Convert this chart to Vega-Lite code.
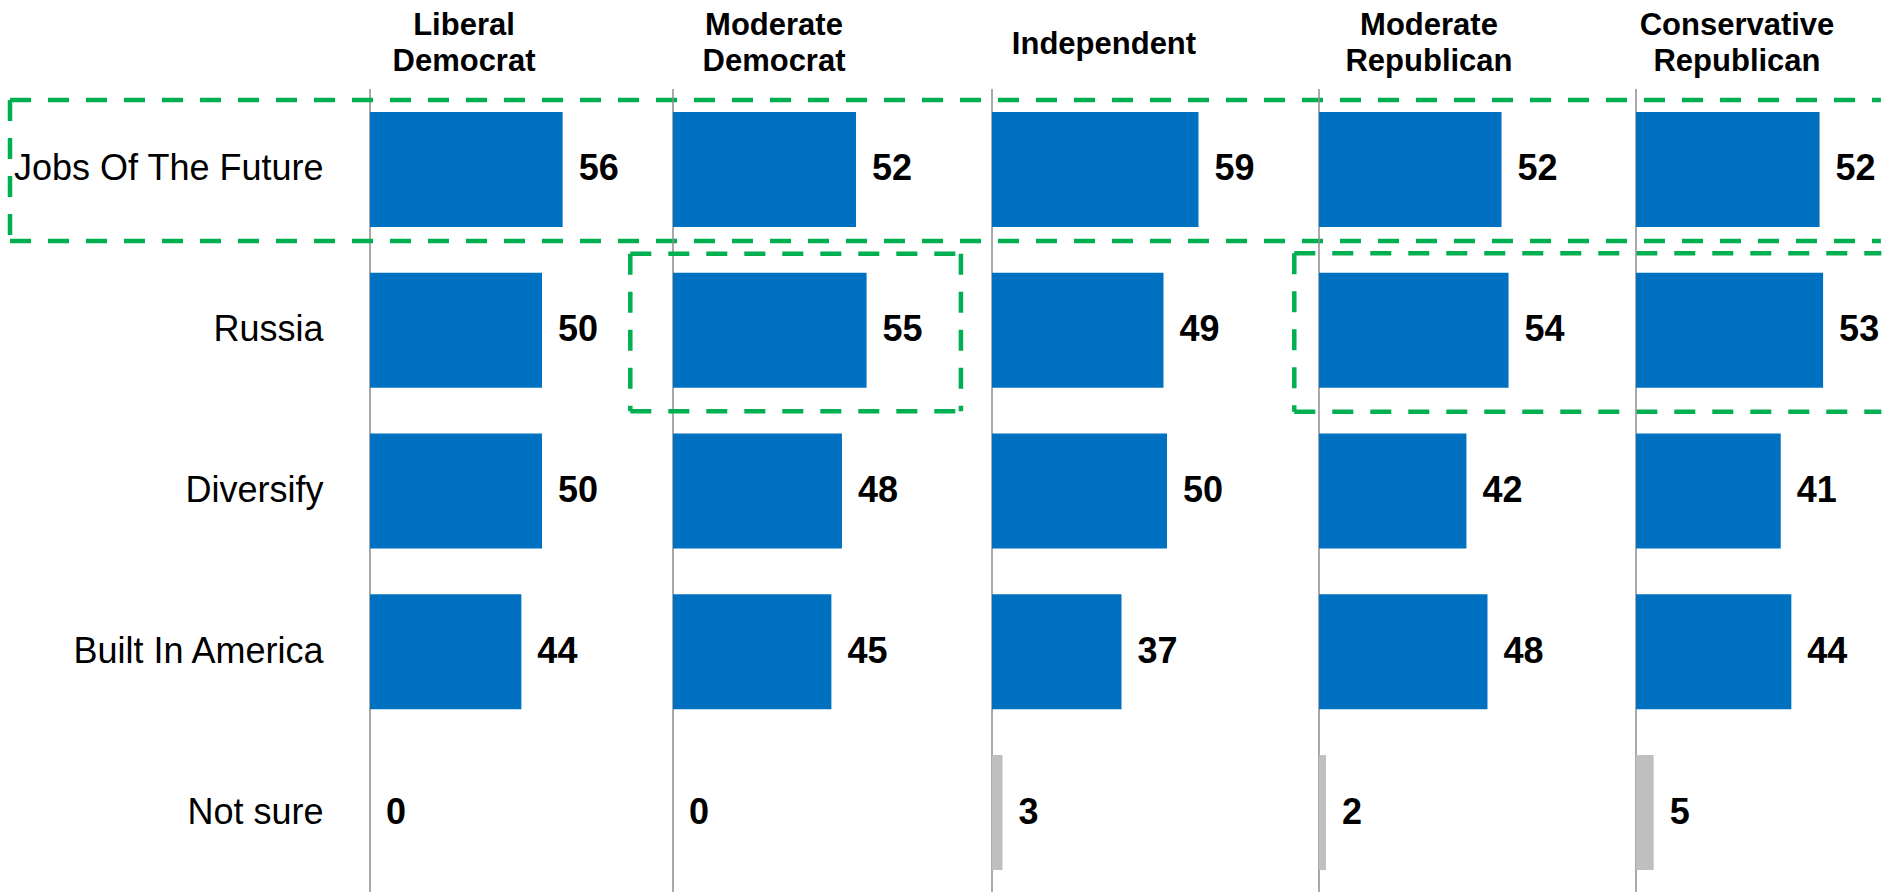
{
  "$schema": "https://vega.github.io/schema/vega-lite/v6.json",
  "padding": {"left": 7, "top": 9, "right": 0, "bottom": 0},
  "spacing": 0,
  "bounds": "flush",
  "config": {
    "view": {"stroke": null},
    "title": {"font": "Liberation Sans", "fontSize": 31, "fontWeight": "bold", "color": "#000000", "lineHeight": 36.5, "anchor": "middle", "offset": 10},
    "axis": {"labelFont": "Liberation Sans"}
  },
  "datasets": {
    "bars": [
      {"group": "Liberal Democrat", "item": "Jobs Of The Future", "value": 56},
      {"group": "Liberal Democrat", "item": "Russia", "value": 50},
      {"group": "Liberal Democrat", "item": "Diversify", "value": 50},
      {"group": "Liberal Democrat", "item": "Built In America", "value": 44},
      {"group": "Liberal Democrat", "item": "Not sure", "value": 0},
      {"group": "Moderate Democrat", "item": "Jobs Of The Future", "value": 52},
      {"group": "Moderate Democrat", "item": "Russia", "value": 55},
      {"group": "Moderate Democrat", "item": "Diversify", "value": 48},
      {"group": "Moderate Democrat", "item": "Built In America", "value": 45},
      {"group": "Moderate Democrat", "item": "Not sure", "value": 0},
      {"group": "Independent", "item": "Jobs Of The Future", "value": 59},
      {"group": "Independent", "item": "Russia", "value": 49},
      {"group": "Independent", "item": "Diversify", "value": 50},
      {"group": "Independent", "item": "Built In America", "value": 37},
      {"group": "Independent", "item": "Not sure", "value": 3},
      {"group": "Moderate Republican", "item": "Jobs Of The Future", "value": 52},
      {"group": "Moderate Republican", "item": "Russia", "value": 54},
      {"group": "Moderate Republican", "item": "Diversify", "value": 42},
      {"group": "Moderate Republican", "item": "Built In America", "value": 48},
      {"group": "Moderate Republican", "item": "Not sure", "value": 2},
      {"group": "Conservative Republican", "item": "Jobs Of The Future", "value": 52},
      {"group": "Conservative Republican", "item": "Russia", "value": 53},
      {"group": "Conservative Republican", "item": "Diversify", "value": 41},
      {"group": "Conservative Republican", "item": "Built In America", "value": 44},
      {"group": "Conservative Republican", "item": "Not sure", "value": 5}
    ],
    "boxes": [
      {"group": "Liberal Democrat", "x1": -104.65, "x2": 439.2, "y1": 0.0684, "y2": 0.0684},
      {"group": "Liberal Democrat", "x1": -104.65, "x2": 439.2, "y1": 0.945, "y2": 0.945},
      {"group": "Liberal Democrat", "x1": -104.65, "x2": -104.65, "y1": 0.0684, "y2": 0.945},
      {"group": "Moderate Democrat", "x1": -12.13, "x2": 81.8, "y1": 1.024, "y2": 1.024},
      {"group": "Moderate Democrat", "x1": -12.13, "x2": 81.8, "y1": 2.004, "y2": 2.004},
      {"group": "Moderate Democrat", "x1": -12.13, "x2": -12.13, "y1": 1.024, "y2": 2.004},
      {"group": "Moderate Democrat", "x1": 81.8, "x2": 81.8, "y1": 1.024, "y2": 2.004},
      {"group": "Moderate Republican", "x1": -7.04, "x2": 160.2, "y1": 1.022, "y2": 1.022},
      {"group": "Moderate Republican", "x1": -7.04, "x2": 160.2, "y1": 2.007, "y2": 2.007},
      {"group": "Moderate Republican", "x1": -7.04, "x2": -7.04, "y1": 1.022, "y2": 2.007}
    ]
  },
  "hconcat": [
    {
      "width": 303, "height": 804,
      "title": {"text": ["Liberal", "Democrat"], "dx": -57.5},
      "resolve": {"scale": {"y": "independent"}},
      "layer": [
        {"data": {"values": [{}]}, "mark": {"type": "rule", "color": "#8c8c8c", "strokeWidth": 1.5},
         "encoding": {"x": {"datum": 0, "type": "quantitative", "scale": {"domain": [0, 88.08], "nice": false}, "axis": null}}},
        {"data": {"name": "bars"}, "transform": [{"filter": "datum.group === 'Liberal Democrat'"}],
         "mark": {"type": "bar"},
         "encoding": {
           "y": {"field": "item", "type": "nominal", "sort": ["Jobs Of The Future", "Russia", "Diversify", "Built In America", "Not sure"], "scale": {"paddingInner": 0.285, "paddingOuter": 0.1425},
                 "axis": {"title": null, "domain": false, "ticks": false, "labelFontSize": 36, "labelColor": "#000000", "labelPadding": 47, "labelLimit": 600}},
           "x": {"field": "value", "type": "quantitative", "scale": {"domain": [0, 88.08], "nice": false}, "axis": null},
           "color": {"condition": {"test": "datum.item === 'Not sure'", "value": "#BFBFBF"}, "value": "#0070C0"}
         }},
        {"data": {"name": "bars"}, "transform": [{"filter": "datum.group === 'Liberal Democrat'"}],
         "mark": {"type": "text", "align": "left", "baseline": "middle", "dx": 16, "font": "Liberation Sans", "fontSize": 36, "fontWeight": "bold", "color": "#000000"},
         "encoding": {
           "y": {"field": "item", "type": "nominal", "sort": ["Jobs Of The Future", "Russia", "Diversify", "Built In America", "Not sure"], "scale": {"paddingInner": 0.285, "paddingOuter": 0.1425}, "axis": null},
           "x": {"field": "value", "type": "quantitative", "scale": {"domain": [0, 88.08], "nice": false}, "axis": null},
           "text": {"field": "value", "type": "quantitative"}
         }},
        {"data": {"name": "boxes"}, "transform": [{"filter": "datum.group === 'Liberal Democrat'"}],
         "mark": {"type": "rule", "color": "#00B050", "strokeWidth": 4.5, "strokeDash": [21, 17]},
         "encoding": {
           "x": {"field": "x1", "type": "quantitative", "scale": {"domain": [0, 88.08], "nice": false}, "axis": null},
           "x2": {"field": "x2"},
           "y": {"field": "y1", "type": "quantitative", "scale": {"domain": [0, 5], "nice": false, "zero": false, "reverse": true}, "axis": null},
           "y2": {"field": "y2"}
         }}
      ]
    },
    {
      "width": 319, "height": 804,
      "title": {"text": ["Moderate", "Democrat"], "dx": -58.5},
      "resolve": {"scale": {"y": "independent"}},
      "layer": [
        {"data": {"values": [{}]}, "mark": {"type": "rule", "color": "#8c8c8c", "strokeWidth": 1.5},
         "encoding": {"x": {"datum": 0, "type": "quantitative", "scale": {"domain": [0, 90.63], "nice": false}, "axis": null}}},
        {"data": {"name": "bars"}, "transform": [{"filter": "datum.group === 'Moderate Democrat'"}],
         "mark": {"type": "bar"},
         "encoding": {
           "y": {"field": "item", "type": "nominal", "sort": ["Jobs Of The Future", "Russia", "Diversify", "Built In America", "Not sure"], "scale": {"paddingInner": 0.285, "paddingOuter": 0.1425}, "axis": null},
           "x": {"field": "value", "type": "quantitative", "scale": {"domain": [0, 90.63], "nice": false}, "axis": null},
           "color": {"condition": {"test": "datum.item === 'Not sure'", "value": "#BFBFBF"}, "value": "#0070C0"}
         }},
        {"data": {"name": "bars"}, "transform": [{"filter": "datum.group === 'Moderate Democrat'"}],
         "mark": {"type": "text", "align": "left", "baseline": "middle", "dx": 16, "font": "Liberation Sans", "fontSize": 36, "fontWeight": "bold", "color": "#000000"},
         "encoding": {
           "y": {"field": "item", "type": "nominal", "sort": ["Jobs Of The Future", "Russia", "Diversify", "Built In America", "Not sure"], "scale": {"paddingInner": 0.285, "paddingOuter": 0.1425}, "axis": null},
           "x": {"field": "value", "type": "quantitative", "scale": {"domain": [0, 90.63], "nice": false}, "axis": null},
           "text": {"field": "value", "type": "quantitative"}
         }},
        {"data": {"name": "boxes"}, "transform": [{"filter": "datum.group === 'Moderate Democrat'"}],
         "mark": {"type": "rule", "color": "#00B050", "strokeWidth": 4.5, "strokeDash": [21, 17]},
         "encoding": {
           "x": {"field": "x1", "type": "quantitative", "scale": {"domain": [0, 90.63], "nice": false}, "axis": null},
           "x2": {"field": "x2"},
           "y": {"field": "y1", "type": "quantitative", "scale": {"domain": [0, 5], "nice": false, "zero": false, "reverse": true}, "axis": null},
           "y2": {"field": "y2"}
         }}
      ]
    },
    {
      "width": 327, "height": 804,
      "title": {"text": "Independent", "dx": -51.5, "dy": -17},
      "layer": [
        {"data": {"values": [{}]}, "mark": {"type": "rule", "color": "#8c8c8c", "strokeWidth": 1.5},
         "encoding": {"x": {"datum": 0, "type": "quantitative", "scale": {"domain": [0, 93.43], "nice": false}, "axis": null}}},
        {"data": {"name": "bars"}, "transform": [{"filter": "datum.group === 'Independent'"}],
         "mark": {"type": "bar"},
         "encoding": {
           "y": {"field": "item", "type": "nominal", "sort": ["Jobs Of The Future", "Russia", "Diversify", "Built In America", "Not sure"], "scale": {"paddingInner": 0.285, "paddingOuter": 0.1425}, "axis": null},
           "x": {"field": "value", "type": "quantitative", "scale": {"domain": [0, 93.43], "nice": false}, "axis": null},
           "color": {"condition": {"test": "datum.item === 'Not sure'", "value": "#BFBFBF"}, "value": "#0070C0"}
         }},
        {"data": {"name": "bars"}, "transform": [{"filter": "datum.group === 'Independent'"}],
         "mark": {"type": "text", "align": "left", "baseline": "middle", "dx": 16, "font": "Liberation Sans", "fontSize": 36, "fontWeight": "bold", "color": "#000000"},
         "encoding": {
           "y": {"field": "item", "type": "nominal", "sort": ["Jobs Of The Future", "Russia", "Diversify", "Built In America", "Not sure"], "scale": {"paddingInner": 0.285, "paddingOuter": 0.1425}, "axis": null},
           "x": {"field": "value", "type": "quantitative", "scale": {"domain": [0, 93.43], "nice": false}, "axis": null},
           "text": {"field": "value", "type": "quantitative"}
         }}
      ]
    },
    {
      "width": 317, "height": 804,
      "title": {"text": ["Moderate", "Republican"], "dx": -48.5},
      "resolve": {"scale": {"y": "independent"}},
      "layer": [
        {"data": {"values": [{}]}, "mark": {"type": "rule", "color": "#8c8c8c", "strokeWidth": 1.5},
         "encoding": {"x": {"datum": 0, "type": "quantitative", "scale": {"domain": [0, 90.31], "nice": false}, "axis": null}}},
        {"data": {"name": "bars"}, "transform": [{"filter": "datum.group === 'Moderate Republican'"}],
         "mark": {"type": "bar"},
         "encoding": {
           "y": {"field": "item", "type": "nominal", "sort": ["Jobs Of The Future", "Russia", "Diversify", "Built In America", "Not sure"], "scale": {"paddingInner": 0.285, "paddingOuter": 0.1425}, "axis": null},
           "x": {"field": "value", "type": "quantitative", "scale": {"domain": [0, 90.31], "nice": false}, "axis": null},
           "color": {"condition": {"test": "datum.item === 'Not sure'", "value": "#BFBFBF"}, "value": "#0070C0"}
         }},
        {"data": {"name": "bars"}, "transform": [{"filter": "datum.group === 'Moderate Republican'"}],
         "mark": {"type": "text", "align": "left", "baseline": "middle", "dx": 16, "font": "Liberation Sans", "fontSize": 36, "fontWeight": "bold", "color": "#000000"},
         "encoding": {
           "y": {"field": "item", "type": "nominal", "sort": ["Jobs Of The Future", "Russia", "Diversify", "Built In America", "Not sure"], "scale": {"paddingInner": 0.285, "paddingOuter": 0.1425}, "axis": null},
           "x": {"field": "value", "type": "quantitative", "scale": {"domain": [0, 90.31], "nice": false}, "axis": null},
           "text": {"field": "value", "type": "quantitative"}
         }},
        {"data": {"name": "boxes"}, "transform": [{"filter": "datum.group === 'Moderate Republican'"}],
         "mark": {"type": "rule", "color": "#00B050", "strokeWidth": 4.5, "strokeDash": [21, 17]},
         "encoding": {
           "x": {"field": "x1", "type": "quantitative", "scale": {"domain": [0, 90.31], "nice": false}, "axis": null},
           "x2": {"field": "x2"},
           "y": {"field": "y1", "type": "quantitative", "scale": {"domain": [0, 5], "nice": false, "zero": false, "reverse": true}, "axis": null},
           "y2": {"field": "y2"}
         }}
      ]
    },
    {
      "width": 245, "height": 804,
      "title": {"text": ["Conservative", "Republican"], "dx": -21.5},
      "layer": [
        {"data": {"values": [{}]}, "mark": {"type": "rule", "color": "#8c8c8c", "strokeWidth": 1.5},
         "encoding": {"x": {"datum": 0, "type": "quantitative", "scale": {"domain": [0, 69.4], "nice": false}, "axis": null}}},
        {"data": {"name": "bars"}, "transform": [{"filter": "datum.group === 'Conservative Republican'"}],
         "mark": {"type": "bar"},
         "encoding": {
           "y": {"field": "item", "type": "nominal", "sort": ["Jobs Of The Future", "Russia", "Diversify", "Built In America", "Not sure"], "scale": {"paddingInner": 0.285, "paddingOuter": 0.1425}, "axis": null},
           "x": {"field": "value", "type": "quantitative", "scale": {"domain": [0, 69.4], "nice": false}, "axis": null},
           "color": {"condition": {"test": "datum.item === 'Not sure'", "value": "#BFBFBF"}, "value": "#0070C0"}
         }},
        {"data": {"name": "bars"}, "transform": [{"filter": "datum.group === 'Conservative Republican'"}],
         "mark": {"type": "text", "align": "left", "baseline": "middle", "dx": 16, "font": "Liberation Sans", "fontSize": 36, "fontWeight": "bold", "color": "#000000"},
         "encoding": {
           "y": {"field": "item", "type": "nominal", "sort": ["Jobs Of The Future", "Russia", "Diversify", "Built In America", "Not sure"], "scale": {"paddingInner": 0.285, "paddingOuter": 0.1425}, "axis": null},
           "x": {"field": "value", "type": "quantitative", "scale": {"domain": [0, 69.4], "nice": false}, "axis": null},
           "text": {"field": "value", "type": "quantitative"}
         }}
      ]
    }
  ]
}
